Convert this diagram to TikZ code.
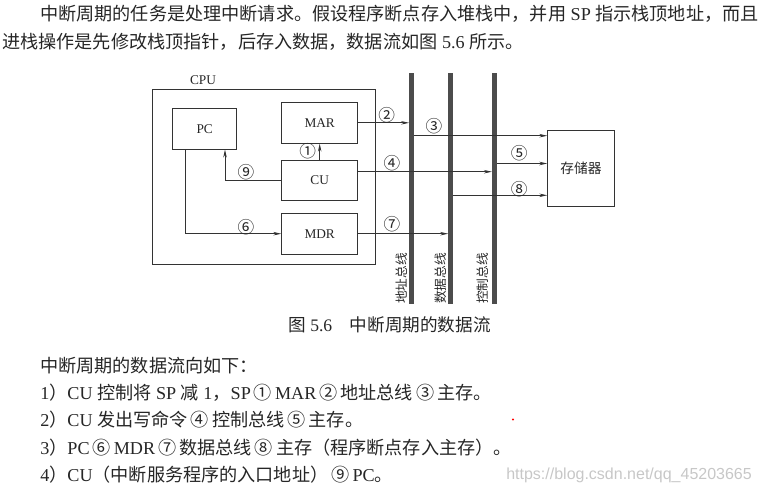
\documentclass[tikz,border=0pt]{standalone}
\usepackage{fontspec}
\setmainfont{Liberation Serif}
\newfontfamily\cjk{Noto Sans CJK SC}
\newfontfamily\wmfont{Liberation Sans}
\usetikzlibrary{arrows.meta,calc}
\newcommand\zh[1]{{\cjk #1}}

\begin{document}
\begin{tikzpicture}[
  x=0.75pt, y=-0.75pt,
  every node/.style={inner sep=0pt, text=black!85},
  body/.style={anchor=west, font=\fontsize{13.6}{16}\selectfont},
  unit/.style={draw=black!80, line width=0.6pt, minimum width=57pt, minimum height=30.6pt, font=\fontsize{10}{12}\selectfont},
  busbar/.style={fill=black!70, minimum width=3.5pt, minimum height=173.25pt},
  buslab/.style={rotate=90, anchor=west, font=\cjk\fontsize{9.5}{11}\selectfont},
  num/.style={font=\cjk\fontsize{12.5}{14}\selectfont},
  arrow/.style={-{Stealth[length=6pt,width=2.6pt]}, line width=0.6pt, draw=black!80},
  wire/.style={line width=0.6pt, draw=black!80}
]
\useasboundingbox (0,0) rectangle (770,493);

% text above the figure
\node[body] (t1) at (40,13.5)
  {\zh{中断周期的任务是处理中断请求。假设程序断点存入堆栈中，并用} SP \zh{指示栈顶地址，而且}};
\node[body] (t2) at (2,41.5)
  {\zh{进栈操作是先修改栈顶指针，后存入数据，数据流如图} 5.6 \zh{所示。}};

% CPU and its registers
\node[draw=black!80, line width=0.6pt, minimum width=167.25pt, minimum height=131.25pt] (cpu) at (264.2,176.5) {};
\node[font=\fontsize{10}{12}\selectfont] (cpulab) at (203,80) {CPU};
\node[unit, minimum width=48pt] (pc) at (204.7,128.7) {PC};
\node[unit] (mar) at (319.7,122.8) {MAR};
\node[unit] (cu) at (319.7,180.3) {CU};
\node[unit] (mdr) at (319.7,233.7) {MDR};

% buses and memory
\node[busbar] (abus) at (411.7,188.8) {};
\node[busbar] (dbus) at (450.8,188.8) {};
\node[busbar] (cbus) at (494.5,188.8) {};
\node[buslab] (alab) at (402,304) {地址总线};
\node[buslab] (dlab) at (441,304) {数据总线};
\node[buslab] (clab) at (483,304) {控制总线};
\node[unit, minimum width=50pt, minimum height=57pt, font=\cjk\fontsize{10.3}{12}\selectfont] (mem) at (581,168.7) {存储器};

% data flow
\coordinate (cuout) at ($(cu.east)+(0,-8.6)$);
\coordinate (pcout) at ($(pc.south)+(-19,0)$);
\coordinate (pcin) at ($(pc.south)+(20.3,0)$);
\draw[arrow] (cu.north) -- (mar.south);
\draw[arrow] (mar.east) -- (mar.east -| abus.west);
\draw[arrow] (abus.east |- 0,135.7) -- (mem.west |- 0,135.7);
\draw[arrow] (cuout) -- (cuout -| cbus.west);
\draw[arrow] (cbus.east |- 0,163.5) -- (mem.west |- 0,163.5);
\draw[arrow] (pcout) |- (mdr.west);
\draw[arrow] (mdr.east) -- (mdr.east -| dbus.west);
\draw[arrow] (dbus.east |- 0,195.3) -- (mem.west |- 0,195.3);
\draw[arrow] (cu.west) -| (pcin);

\node[num] (n1) at (307.7,151) {①};
\node[num] (n2) at (386.7,115) {②};
\node[num] (n3) at (434,126) {③};
\node[num] (n4) at (392,162.7) {④};
\node[num] (n5) at (519.3,153.3) {⑤};
\node[num] (n6) at (246,226.7) {⑥};
\node[num] (n7) at (392,224.3) {⑦};
\node[num] (n8) at (519.3,189) {⑧};
\node[num] (n9) at (246,171.7) {⑨};

% caption and list
\node[body, font=\fontsize{13.2}{16}\selectfont] (cap) at (288,325)
  {\zh{图} 5.6\quad\zh{中断周期的数据流}};
\node[body] (l0) at (40,365.5) {\zh{中断周期的数据流向如下：}};
\node[body] (l1) at (40,392.8)
  {1\zh{）}CU \zh{控制将} SP \zh{减} 1\zh{，}SP\,\zh{①}\,MAR\,\zh{②}\,\zh{地址总线}\,\zh{③}\,\zh{主存。}};
\node[body] (l2) at (40,420.1) {2\zh{）}CU \zh{发出写命令}\,\zh{④}\,\zh{控制总线}\,\zh{⑤}\,\zh{主存。}};
\node[body] (l3) at (40,447.4)
  {3\zh{）}PC\,\zh{⑥}\,MDR\,\zh{⑦}\,\zh{数据总线}\,\zh{⑧}\,\zh{主存（程序断点存入主存）。}};
\node[body] (l4) at (40,474.7) {4\zh{）}CU\zh{（中断服务程序的入口地址）}\,\zh{⑨}\,PC\zh{。}};

\fill[red] (513,419.5) circle (1.2);
\node[anchor=west, font=\wmfont\fontsize{12}{14}\selectfont, text=black!22] (wm) at (506,475)
  {https://blog.csdn.net/qq\_45203665};

\end{tikzpicture}
\end{document}
